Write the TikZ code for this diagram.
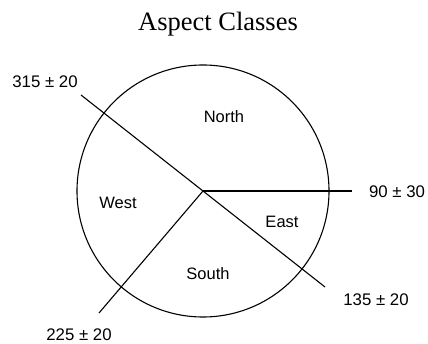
\documentclass[tikz,border=0pt]{standalone}
\usepackage{fontspec}
\setmainfont{Liberation Serif}
\setsansfont{Liberation Sans}
\usetikzlibrary{positioning}

\begin{document}
\begin{tikzpicture}[x=1pt, y=-1pt, line width=1.1pt,
    sector/.style={font=\sffamily\fontsize{16.5}{19}\selectfont},
    bearing/.style={font=\sffamily\fontsize{16.8}{19}\selectfont, inner sep=0pt}]

    \useasboundingbox (0,0) rectangle (428,344);

    % Title
    \node[font=\fontsize{26.5}{31}\selectfont] (title) at (218, 24) {Aspect Classes};

    % Circle of aspect classes
    \coordinate (c) at (203, 191);
    \draw (c) circle (126);

    % Ends of the class boundaries
    \coordinate (nw) at (81, 95);
    \coordinate (se) at (325, 287);
    \coordinate (e) at (352, 191);
    \coordinate (sw) at (99, 313);

    \draw (nw) -- (se);
    \draw (c) -- (e);
    \draw (c) -- (sw);

    % Class names
    \node[sector] (north) at (224, 117) {North};
    \node[sector] (west) at (118, 203) {West};
    \node[sector] (east) at (282, 222) {East};
    \node[sector] (south) at (208, 274) {South};

    % Boundary bearings
    \node[bearing] (b315) at (45, 82) {315 ± 20};
    \node[bearing] (b90) at (397, 192) {90 ± 30};
    \node[bearing] (b135) at (376, 300) {135 ± 20};
    \node[bearing] (b225) at (79, 335) {225 ± 20};

\end{tikzpicture}
\end{document}
